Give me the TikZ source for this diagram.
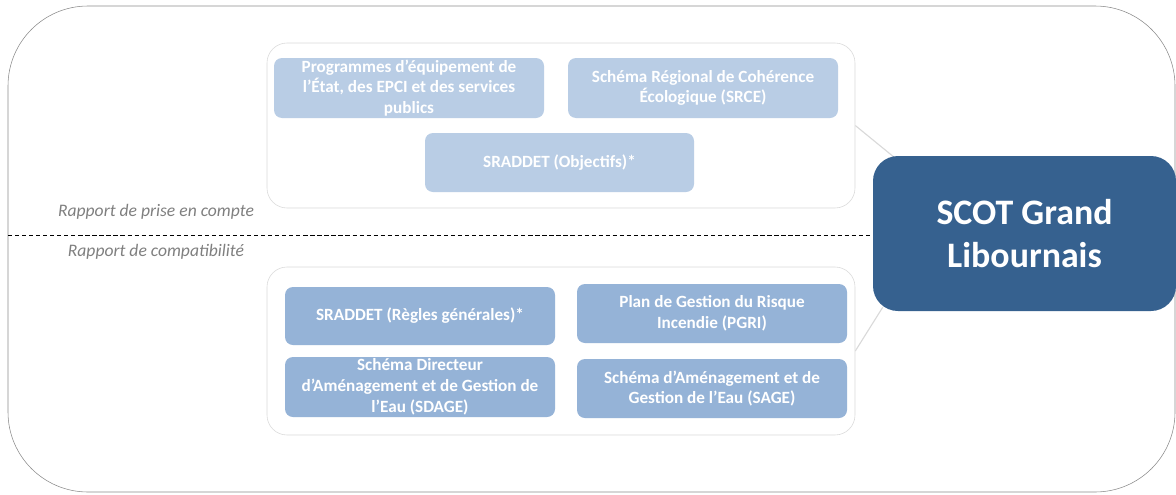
\documentclass[tikz,border=0pt]{standalone}
\usepackage{fontspec}
\setmainfont{Carlito}
\usetikzlibrary{calc, backgrounds}
\newlength\px
\setlength\px{0.025cm}
\definecolor{paleblue}{HTML}{B9CDE5}
\definecolor{midblue}{HTML}{95B3D7}
\definecolor{deepblue}{HTML}{36618F}
\definecolor{framegray}{HTML}{8C8C8C}
\definecolor{groupgray}{HTML}{D9D9D9}
\definecolor{labelgray}{HTML}{7F7F7F}
\begin{document}
\begin{tikzpicture}[x=\px, y=-\px,
    docbox/.style={rounded corners=8\px, minimum width=270\px, minimum height=60\px,
        inner sep=0pt, text=white, align=center, font=\fontsize{12.2}{14.8}\selectfont\bfseries},
    upper/.style={docbox, fill=paleblue},
    lower/.style={docbox, fill=midblue},
    groupbox/.style={draw=groupgray, fill=white, rounded corners=20\px, minimum width=588\px},
    linklabel/.style={text=labelgray, font=\fontsize{12.5}{14}\selectfont\itshape}]
    \useasboundingbox (0,0) rectangle (1176,494);
    % outer frame
    \draw[framegray, rounded corners=80\px] (8,6) rectangle (1175,492);
    % the two groups
    \node[groupbox, minimum height=165\px] (grpA) at (561,125.5) {};
    \node[groupbox, minimum height=168\px] (grpB) at (561,351) {};
    % documents taken into account
    \node[upper] (prog) at (409,88) {Programmes d’équipement de\\l’État, des EPCI et des services\\publics};
    \node[upper] (srce) at (703,88) {Schéma Régional de Cohérence\\Écologique (SRCE)};
    \node[upper, minimum width=269\px, minimum height=59\px] (objs) at (559.5,162.5) {SRADDET (Objectifs)*};
    % documents to be compatible with
    \node[lower, minimum height=58\px] (regles) at (420,316) {SRADDET (Règles générales)*};
    \node[lower, minimum height=59\px] (pgri) at (712,313.5) {Plan de Gestion du Risque\\Incendie (PGRI)};
    \node[lower] (sdage) at (420,387) {Schéma Directeur\\d’Aménagement et de Gestion de\\l’Eau (SDAGE)};
    \node[lower, minimum height=59\px] (sage) at (712,388.5) {Schéma d’Aménagement et de\\Gestion de l’Eau (SAGE)};
    % the SCOT
    \node[fill=deepblue, rounded corners=25\px, minimum width=303\px, minimum height=155\px,
        text=white, align=center, font=\fontsize{25.5}{30}\selectfont\bfseries] (scot) at (1024.5,233.5)
        {SCOT Grand\\Libournais};
    % separation between the two kinds of links
    \coordinate (sepleft) at (8,235);
    \draw[dashed, dash pattern=on 3pt off 2pt, black] (sepleft) -- (sepleft -| scot.west);
    \node[linklabel] (prise) at (156,212) {Rapport de prise en compte};
    \node[linklabel] (compat) at (156,252) {Rapport de compatibilité};
    % links to the SCOT
    \begin{scope}[on background layer]
        \draw[groupgray, thick] (grpA.east) -- ($(scot.north west)+(22,2)$);
        \draw[groupgray, thick] (grpB.east) -- ($(scot.south west)+(10,-4)$);
    \end{scope}
\end{tikzpicture}
\end{document}
